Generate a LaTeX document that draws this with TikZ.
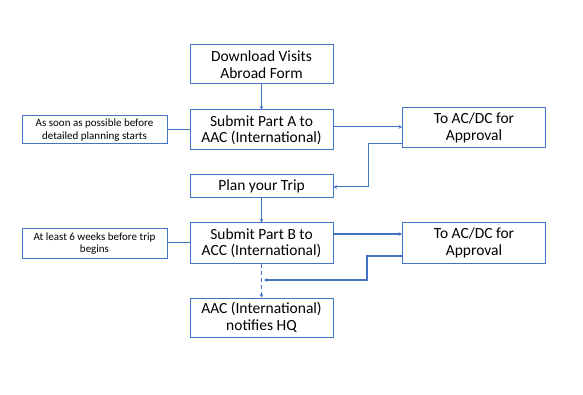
\documentclass[tikz,border=0pt]{standalone}
\usepackage{fontspec}
\setmainfont{Carlito}
\usetikzlibrary{arrows.meta}
\definecolor{obl}{HTML}{4472C4}
\begin{document}
\begin{tikzpicture}[x=1pt,y=-1pt,
  box/.style={draw=obl,line width=1pt,minimum width=143pt,align=center,font=\fontsize{15.5}{16.5}\selectfont,inner sep=0pt},
  note/.style={draw=obl,line width=1pt,minimum width=145pt,align=center,font=\fontsize{11}{12.5}\selectfont,inner sep=0pt},
  conn/.style={draw=obl,line width=1pt},
  arr/.style={conn,-{Stealth[length=3.5pt,width=3.5pt]}}]
\useasboundingbox (0,0) rectangle (583,395);
\node[box,minimum height=39pt] (dl) at (261.5,64.5) {Download Visits\\Abroad Form};
\node[box,minimum height=40pt] (pa) at (261.5,130) {Submit Part A to\\AAC (International)};
\node[note,minimum height=28pt] (na) at (94.5,130) {As soon as possible before\\detailed planning starts};
\node[box,minimum height=40pt] (apa) at (474,128) {To AC/DC for\\Approval};
\node[box,minimum height=23pt] (plan) at (261.5,186.5) {Plan your Trip};
\node[box,minimum height=40pt] (pb) at (261.5,243) {Submit Part B to\\ACC (International)};
\node[note,minimum height=29pt] (nb) at (94.5,243.5) {At least 6 weeks before trip\\begins};
\node[box,minimum height=40pt] (apb) at (474,243) {To AC/DC for\\Approval};
\node[box,minimum height=39pt] (hq) at (261.5,317.5) {AAC (International)\\notifies HQ};
\coordinate (rb) at (264,281);
\draw[arr] (dl.south) -- (pa.north);
\draw[conn] (na.east) -- (pa.west);
\draw[arr] (pa.east |- 0,127) -- (apa.west |- 0,127);
\draw[arr] (apa.west |- 0,144) -| (368,187) -- (plan.east |- 0,187);
\draw[arr] (plan.south) -- (pb.north);
\draw[conn] (nb.east |- 0,243) -- (pb.west);
\draw[arr,line width=1.4pt] (pb.east |- 0,234) -- (apb.west |- 0,234);
\draw[arr,line width=1.4pt] (apb.west |- 0,256) -| (367,280) -- (rb |- 0,280);
\draw[conn,line width=1.6pt,dash pattern=on 4pt off 3pt,-{Stealth[length=3.5pt,width=3.5pt]}] (pb.south) -- (hq.north);
\end{tikzpicture}
\end{document}
